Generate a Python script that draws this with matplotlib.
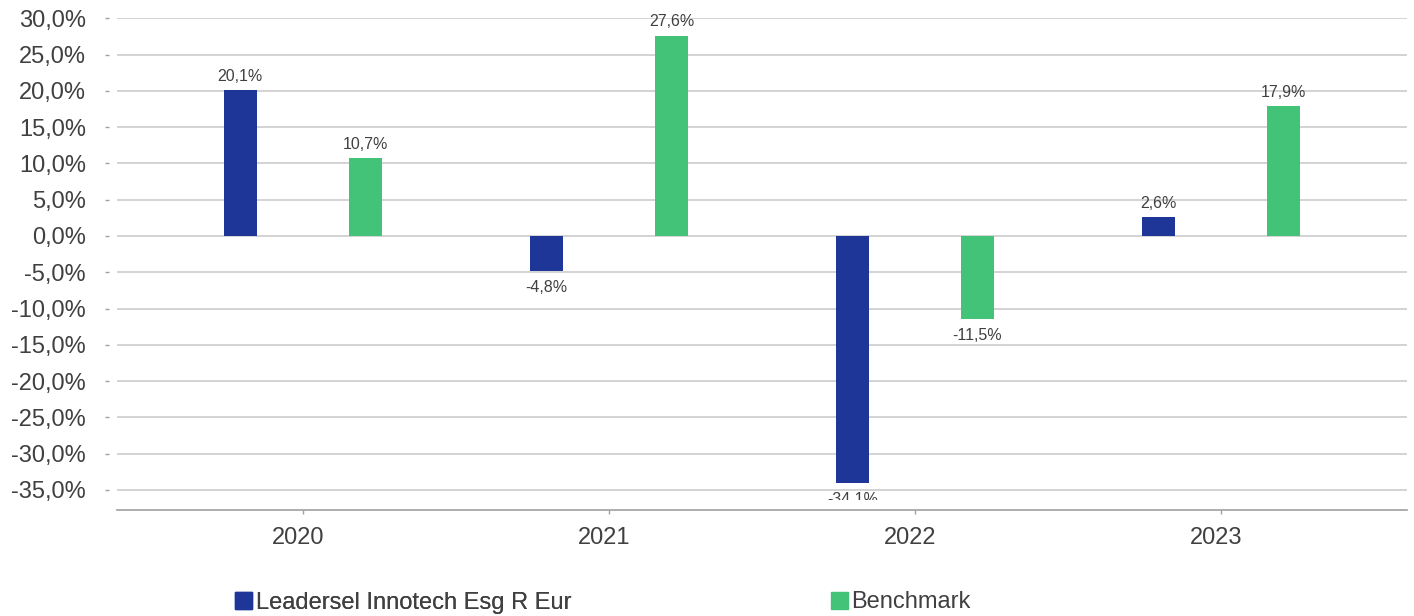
import matplotlib
matplotlib.use("Agg")
import matplotlib.pyplot as plt
import matplotlib.transforms as mtransforms
from matplotlib.patches import Patch, Rectangle
import numpy as np

plt.rcParams['font.family'] = ['Liberation Sans', 'DejaVu Sans']

years = ["2020", "2021", "2022", "2023"]
fund_name = "Leadersel Innotech Esg R Eur"
bench_name = "Benchmark"
fund = [20.1, -4.8, -34.1, 2.6]
bench = [10.7, 27.6, -11.5, 17.9]
yticks = list(range(-35, 31, 5))

BLUE = "#1D3698"
GREEN = "#43C378"
TXT = "#404040"

fig = plt.figure(figsize=(14.14, 6.16), dpi=100)
ax = fig.add_axes([117/1414, 1-509.5/616, (1407-117)/1414, (509.5-18.3)/616])

x = np.arange(len(years))
w = 0.108
off = 0.204
b1 = ax.bar(x - off, fund, w, color=BLUE, zorder=3)
b2 = ax.bar(x + off, bench, w, color=GREEN, zorder=3)

ax.set_xlim(-0.607, 3.607)
ax.set_ylim(-37.7, 30)

def fmt(v):
    return f"{v:.1f}%".replace(".", ",")

# clip region for labels below bars (text is cut a little above the axis line)
clip_rect = Rectangle((-0.607, -36.4), 4.214, 80, transform=ax.transData,
                      facecolor="none", edgecolor="none")
ax.add_patch(clip_rect)

for bars, vals in ((b1, fund), (b2, bench)):
    for r, v in zip(bars, vals):
        cx = r.get_x() + r.get_width()/2
        if v >= 0:
            ax.annotate(fmt(v), (cx, v), xytext=(0, 4.5), textcoords="offset points",
                        ha="center", va="bottom", fontsize=11.5, color=TXT,
                        annotation_clip=False)
        else:
            t = ax.annotate(fmt(v), (cx, v), xytext=(0, -6.5), textcoords="offset points",
                            ha="center", va="top", fontsize=11.5, color=TXT,
                            annotation_clip=False)
            t.set_clip_path(clip_rect)

ax.set_yticks(yticks)
ax.set_yticklabels([fmt(float(t)) for t in yticks], fontsize=17, color=TXT)
ax.set_xticks(x)
ax.set_xticklabels(years, fontsize=17, color=TXT)

ax.grid(axis="y", color="#D0D0D0", linewidth=1.3, zorder=0)
ax.set_axisbelow(True)
for s in ("top", "right", "left"):
    ax.spines[s].set_visible(False)
ax.spines["bottom"].set_color("#A0A0A0")
ax.spines["bottom"].set_linewidth(1.2)
ax.tick_params(axis="y", length=3, color="#A0A0A0", pad=19.3, width=1)
ax.tick_params(axis="x", length=3, color="#A0A0A0", pad=9.6, width=1)

shift = mtransforms.ScaledTranslation(-8/100, 0, fig.dpi_scale_trans)
for tk in ax.yaxis.get_major_ticks():
    tk.tick1line.set_transform(tk.tick1line.get_transform() + shift)
xshift = mtransforms.ScaledTranslation(-5/100, 0, fig.dpi_scale_trans)
for lbl in ax.get_xticklabels():
    lbl.set_transform(lbl.get_transform() + xshift)

leg_kw = dict(loc="center left", frameon=False, fontsize=17, handlelength=0.72,
              handleheight=0.72, handletextpad=0.15, labelcolor=TXT,
              borderpad=0, borderaxespad=0)
l1 = fig.legend(handles=[Patch(color=BLUE, label=fund_name)],
                bbox_to_anchor=(235/1414, 1-602.5/616), **leg_kw)
fig.add_artist(l1)
fig.legend(handles=[Patch(color=GREEN, label=bench_name)],
           bbox_to_anchor=(831/1414, 1-602.5/616), **leg_kw)

fig.savefig("out.png", dpi=100)
